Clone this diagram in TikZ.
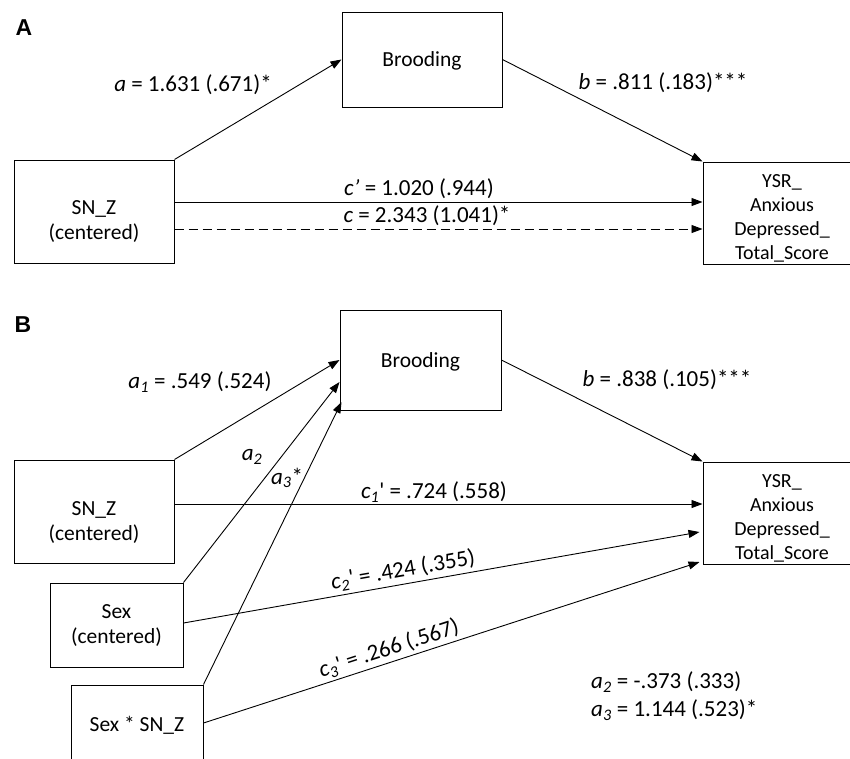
\documentclass[tikz,border=0pt]{standalone}
\usepackage{fontspec}
\setmainfont{Carlito}
\newfontfamily\panelfont{Liberation Sans}
\usetikzlibrary{arrows.meta,calc}
\newcommand{\lsub}[1]{\textsubscript{\textit{#1}}}
\begin{document}
\begin{tikzpicture}[x=1pt,y=-1pt,
  box/.style={draw, line width=1pt, inner sep=0pt},
  txt/.style={font=\fontsize{21.5}{25}\selectfont, inner sep=0pt, align=center},
  ysr/.style={font=\fontsize{20}{24}\selectfont, inner sep=0pt, align=center},
  lbl/.style={font=\fontsize{23}{28}\selectfont, inner sep=0pt},
  panel/.style={font=\panelfont\fontsize{23}{25}\selectfont\bfseries, inner sep=0pt},
  arr/.style={line width=0.9pt, -{Triangle[length=11pt,width=8pt]}},
  dsh/.style={arr, dash pattern=on 9pt off 5pt}]
\clip (0,0) rectangle (850,758);

% ---------- Panel A ----------
\node[panel] (pA) at (24,28) {A};
\node[box, minimum width=160pt, minimum height=95pt] (broA) at (422,59.5) {};
\node[txt] (tbroA) at (422,61) {Brooding};
\node[box, minimum width=160pt, minimum height=103pt] (snA) at (94,211.5) {};
\node[txt] (tsnA) at (94,221.5) {SN\_Z\\(centered)};
\node[box, minimum width=158pt, minimum height=102pt] (ysrA) at (782,213) {};
\node[ysr] (tysrA) at (782,218) {YSR\_\\Anxious\\Depressed\_\\Total\_Score};

\draw[arr] (snA.north east) -- (broA.west);
\draw[arr] (broA.east) -- (ysrA.north west);
\draw[arr] (snA.east |- 0,202) -- (ysrA.west |- 0,202);
\draw[dsh] (snA.east |- 0,229) -- (ysrA.west |- 0,229);

\node[lbl] (laA) at (193,85) {\textit{a} = 1.631 (.671)*};
\node[lbl] (lbA) at (663,83) {\textit{b} = .811 (.183)***};
\node[lbl] (lcpA) at (419,189) {\textit{c'} = 1.020 (.944)};
\node[lbl] (lcA) at (427,216) {\textit{c} = 2.343 (1.041)*};

% ---------- Panel B ----------
\node[panel] (pB) at (23,325) {B};
\node[box, minimum width=161pt, minimum height=100pt] (broB) at (420.5,360) {};
\node[txt] (tbroB) at (420.5,362) {Brooding};
\node[box, minimum width=160pt, minimum height=103pt] (snB) at (94,511.5) {};
\node[txt] (tsnB) at (94,522.5) {SN\_Z\\(centered)};
\node[box, minimum width=133pt, minimum height=84pt] (sexB) at (116.5,625) {};
\node[txt] (tsexB) at (116.5,626) {Sex\\(centered)};
\node[box, minimum width=132pt, minimum height=85pt] (sxsB) at (137,727.5) {};
\node[txt] (tsxsB) at (137,725) {Sex * SN\_Z};
\node[box, minimum width=158pt, minimum height=102pt] (ysrB) at (782,513) {};
\node[ysr] (tysrB) at (782,518) {YSR\_\\Anxious\\Depressed\_\\Total\_Score};

\draw[arr] (snB.north east) -- (broB.west);
\draw[arr] (sexB.north east) -- ([yshift=-22pt]broB.west);
\draw[arr] (sxsB.north east) -- ([yshift=-42pt,xshift=2pt]broB.west);
\draw[arr] (broB.east) -- (ysrB.north west);
\draw[arr] ([yshift=7.5pt]snB.east) -- (ysrB.west |- 0,504);
\draw[arr] ([yshift=2pt]sexB.east) -- ([xshift=-3pt,yshift=-19pt]ysrB.west);
\draw[arr] ([yshift=4.5pt]sxsB.east) -- ([xshift=-3pt,yshift=-49pt]ysrB.west);

\node[lbl] (la1) at (200,382) {\textit{a}\lsub{1} = .549 (.524)};
\node[lbl] (la2) at (252,457) {\textit{a}\lsub{2}};
\node[lbl] (la3) at (287,478) {\textit{a}\lsub{3}*};
\node[lbl] (lbB) at (667,380) {\textit{b} = .838 (.105)***};
\node[lbl] (lc1) at (434,492) {\textit{c}\lsub{1}\textquotesingle{} = .724 (.558)};
\node[lbl, rotate=10] (lc2) at (403,570) {\textit{c}\lsub{2}\textquotesingle{} = .424 (.355)};
\node[lbl, rotate=18] (lc3) at (389,649) {\textit{c}\lsub{3}\textquotesingle{} = .266 (.567)};
\node[lbl, anchor=west, align=left] (lnote) at (591,696) {\textit{a}\lsub{2} = -.373 (.333)\\\textit{a}\lsub{3} = 1.144 (.523)*};
\end{tikzpicture}
\end{document}
